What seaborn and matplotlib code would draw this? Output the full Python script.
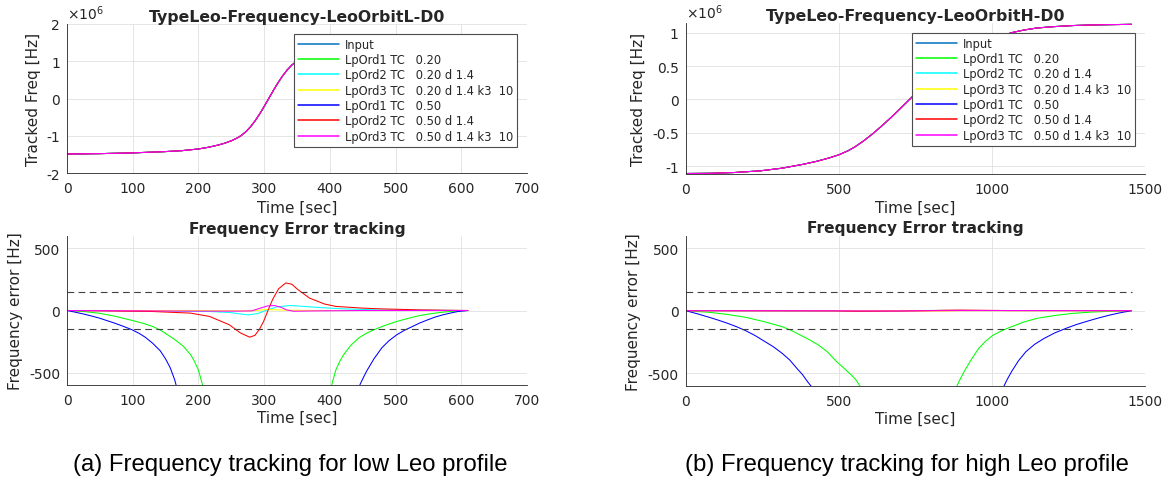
import matplotlib
matplotlib.use("Agg")
import matplotlib.pyplot as plt
import seaborn as sns

# ---- series names / colours (MATLAB style) ----
labels = ['Input', 'LpOrd1 TC   0.20', 'LpOrd2 TC   0.20 d 1.4', 'LpOrd3 TC   0.20 d 1.4 k3  10',
          'LpOrd1 TC   0.50', 'LpOrd2 TC   0.50 d 1.4', 'LpOrd3 TC   0.50 d 1.4 k3  10']
colors = ['#0072BD', '#00FF00', '#00FFFF', '#FFFF00', '#0000FF', '#FF0000', '#FF00FF']

# ---- input Doppler profile, low Leo (Hz) ----
t_lo_in = [0, 50, 100, 150, 175, 200, 215, 230, 240, 250, 258, 265, 272, 279, 286, 293, 300, 307,
           314, 321, 328, 335, 342, 349, 356, 364, 374, 384, 399, 414, 439, 464, 514, 564, 612]
f_lo_in = [-1.49e6, -1.48e6, -1.46e6, -1.425e6, -1.40e6, -1.355e6, -1.31e6, -1.25e6, -1.20e6, -1.135e6,
           -1.07e6, -0.995e6, -0.895e6, -0.765e6, -0.605e6, -0.42e6, -0.215e6, 0.0,
           0.215e6, 0.42e6, 0.605e6, 0.765e6, 0.895e6, 0.995e6, 1.07e6, 1.135e6, 1.20e6, 1.25e6,
           1.31e6, 1.355e6, 1.40e6, 1.425e6, 1.46e6, 1.48e6, 1.49e6]

# ---- input Doppler profile, high Leo (Hz) ----
t_hi_in = [0, 80, 160, 244, 315, 386, 430, 470, 500, 530, 553, 580, 612, 642, 672, 700, 731,
           760, 790, 820, 850, 880, 910, 945, 980, 1020, 1064, 1105, 1147, 1200, 1266, 1320, 1380, 1456]
f_hi_in = [-1.11e6, -1.107e6, -1.095e6, -1.07e6, -1.03e6, -0.97e6, -0.925e6, -0.875e6, -0.83e6, -0.77e6,
           -0.71e6, -0.625e6, -0.51e6, -0.39e6, -0.265e6, -0.14e6, 0.0,
           0.13e6, 0.26e6, 0.38e6, 0.49e6, 0.59e6, 0.68e6, 0.77e6, 0.85e6, 0.93e6, 1.0e6, 1.04e6,
           1.07e6, 1.09e6, 1.107e6, 1.115e6, 1.12e6, 1.125e6]

# ---- frequency errors, low Leo (Hz) ----
t_lo_g = [0, 25, 49, 72, 99, 115, 130, 142, 153, 165, 177, 188, 194, 200, 206, 210, 305,
          398, 403, 409, 415, 421, 432, 444, 455, 467, 485, 502, 520, 537, 555, 572, 590, 610]
e_lo_g = [0, -8, -22, -45, -80, -102, -128, -158, -195, -238, -288, -355, -410, -480, -595, -680, -2000,
          -700, -595, -480, -410, -355, -280, -221, -185, -155, -118, -88, -62, -40, -25, -13, -5, 0]
t_lo_c = [0, 150, 217, 247, 264, 276, 290, 305, 320, 340, 363, 390, 421, 480, 610]
e_lo_c = [0, -3, -8, -16, -28, -35, -25, 5, 30, 40, 32, 22, 13, 4, 0]
t_lo_y = [0, 200, 280, 305, 330, 380, 610]
e_lo_y = [0, 0, -3, 8, 3, 0, 0]
t_lo_b = [0, 12, 25, 37, 49, 60, 72, 85, 99, 110, 119, 130, 142, 150, 157, 164, 170, 305,
          441, 446, 451, 456, 467, 479, 490, 502, 514, 526, 537, 549, 560, 572, 584, 595, 610]
e_lo_b = [0, -13, -28, -44, -61, -80, -101, -126, -155, -185, -215, -262, -325, -390, -460, -560, -680, -3500,
          -700, -595, -540, -488, -390, -301, -243, -195, -158, -128, -100, -75, -53, -35, -20, -8, 0]
t_lo_r = [0, 130, 188, 217, 247, 264, 278, 286, 293, 299, 305, 313, 322, 333, 342, 351, 369, 392, 409, 450, 479, 537, 610]
e_lo_r = [0, -8, -21, -48, -115, -181, -215, -200, -150, -90, -10, 90, 175, 222, 212, 170, 100, 52, 33, 19, 13, 5, 0]
t_lo_m = [0, 120, 200, 260, 281, 295, 305, 316, 326, 334, 345, 380, 450, 610]
e_lo_m = [0, -3, -5, -5, -3, 20, 37, 40, 25, 5, -6, -3, 0, 0]

# ---- frequency errors, high Leo (Hz) ----
t_hi_g = [0, 77, 137, 196, 255, 315, 345, 374, 404, 434, 463, 493, 517, 541, 555, 567, 580, 730,
          875, 886, 897, 909, 933, 957, 980, 1004, 1034, 1064, 1105, 1147, 1206, 1266, 1325, 1385, 1456]
e_hi_g = [0, -13, -30, -53, -87, -128, -158, -195, -232, -275, -330, -408, -460, -515, -550, -595, -640, -1500,
          -650, -600, -545, -488, -390, -301, -243, -195, -158, -128, -90, -61, -38, -21, -11, -5, 0]
t_hi_c = [0, 600, 800, 1456]
e_hi_c = [0, -2, 2, 0]
t_hi_y = [0, 700, 780, 850, 900, 1456]
e_hi_y = [0, 0, -3, -3, 0, 0]
t_hi_b = [0, 40, 77, 107, 137, 166, 196, 226, 256, 286, 315, 340, 363, 381, 398, 410, 425, 730,
          1030, 1040, 1050, 1064, 1087, 1111, 1140, 1171, 1205, 1242, 1277, 1313, 1350, 1385, 1420, 1456]
e_hi_b = [0, -26, -53, -76, -101, -128, -160, -198, -243, -288, -341, -395, -461, -510, -568, -605, -650, -2000,
          -650, -600, -550, -488, -400, -328, -268, -221, -178, -141, -110, -83, -57, -35, -16, 0]
t_hi_r = [0, 480, 560, 640, 700, 780, 850, 900, 980, 1060, 1456]
e_hi_r = [0, -2, -5, -4, -3, 0, 4, 5, 3, 1, 0]
t_hi_m = [0, 500, 700, 900, 1100, 1456]
e_hi_m = [0, -1, -2, 1, 1, 0]

# error threshold lines
limit_t_lo = [0, 605]
limit_t_hi = [0, 1456]
limit_val = 150

# ticks
xticks_lo = [0, 100, 200, 300, 400, 500, 600, 700]
xticks_hi = [0, 500, 1000, 1500]
yticks_f_lo = [-2e6, -1e6, 0, 1e6, 2e6]
ylabels_f_lo = ['-2', '-1', '0', '1', '2']
yticks_f_hi = [-1e6, -0.5e6, 0, 0.5e6, 1e6]
ylabels_f_hi = ['-1', '-0.5', '0', '0.5', '1']
yticks_err = [-500, 0, 500]

sns.set_theme(style='white')
plt.rcParams['font.family'] = ['DejaVu Sans']
plt.rcParams['axes.unicode_minus'] = False
plt.rcParams['mathtext.fontset'] = 'dejavusans'

fig = plt.figure(figsize=(11.71, 4.81), dpi=100)
W, H = 1171, 481
ax_tl = fig.add_axes([67 / W, 1 - 174 / H, 460 / W, 149 / H])
ax_bl = fig.add_axes([67 / W, 1 - 386 / H, 460 / W, 149 / H])
ax_tr = fig.add_axes([685.7 / W, 1 - 174.5 / H, 459.3 / W, 150.5 / H])
ax_br = fig.add_axes([685.7 / W, 1 - 386.7 / H, 459.3 / W, 150 / H])

txt = '0.15'
lw = 0.75


def style(ax):
    for s in ['top', 'right']:
        ax.spines[s].set_visible(False)
    for s in ['left', 'bottom']:
        ax.spines[s].set_color(txt)
        ax.spines[s].set_linewidth(0.6)
    ax.tick_params(direction='in', length=2.5, width=0.6, colors=txt, labelsize=10)
    ax.tick_params(axis='x', pad=6)
    ax.tick_params(axis='y', pad=5)
    ax.grid(True, color='0.88', lw=0.6)
    ax.set_axisbelow(True)


# ---- top panels: tracked frequency ----
for ax, t, f in [(ax_tl, t_lo_in, f_lo_in), (ax_tr, t_hi_in, f_hi_in)]:
    for lab, col in zip(labels, colors):
        sns.lineplot(x=t, y=f, ax=ax, color=col, lw=lw, label=lab, sort=False, estimator=None)
    style(ax)
    ax.set_xlabel('Time [sec]', fontsize=11, color=txt)
    ax.set_ylabel('Tracked Freq [Hz]', fontsize=11, color=txt)
    ax.text(0.0, 1.012, r'$\times10^{6}$', transform=ax.transAxes, fontsize=10, color=txt,
            ha='left', va='bottom')
    leg = ax.legend(loc='upper right', fontsize=8.3, frameon=True, fancybox=False, framealpha=1,
                    edgecolor='0.3', borderpad=0.35, labelspacing=0.2, handlelength=3.6,
                    handletextpad=0.5, borderaxespad=0.85)
    leg.get_frame().set_linewidth(0.8)
    for hl in leg.get_lines():
        hl.set_linewidth(1.1)

ax_tl.set_title('TypeLeo-Frequency-LeoOrbitL-D0', fontsize=11.3, fontweight='bold', pad=2.5)
ax_tr.set_title('TypeLeo-Frequency-LeoOrbitH-D0', fontsize=11.3, fontweight='bold', pad=2.5)
ax_tl.set_xlim(0, 700)
ax_tl.set_xticks(xticks_lo)
ax_tl.set_ylim(-2e6, 2e6)
ax_tl.set_yticks(yticks_f_lo)
ax_tl.set_yticklabels(ylabels_f_lo)
ax_tr.set_xlim(0, 1500)
ax_tr.set_xticks(xticks_hi)
ax_tr.set_ylim(-1.11e6, 1.145e6)
ax_tr.set_yticks(yticks_f_hi)
ax_tr.set_yticklabels(ylabels_f_hi)

# ---- bottom panels: frequency error ----
err_lo = [(t_lo_g, e_lo_g), (t_lo_c, e_lo_c), (t_lo_y, e_lo_y), (t_lo_b, e_lo_b), (t_lo_r, e_lo_r), (t_lo_m, e_lo_m)]
err_hi = [(t_hi_g, e_hi_g), (t_hi_c, e_hi_c), (t_hi_y, e_hi_y), (t_hi_b, e_hi_b), (t_hi_r, e_hi_r), (t_hi_m, e_hi_m)]
for ax, series, lim_t in [(ax_bl, err_lo, limit_t_lo), (ax_br, err_hi, limit_t_hi)]:
    for (t, e), col in zip(series, colors[1:]):
        sns.lineplot(x=t, y=e, ax=ax, color=col, lw=lw, sort=False, estimator=None)
    for v in [limit_val, -limit_val]:
        ax.plot(lim_t, [v, v], color='0.25', lw=0.8, dashes=(6, 4))
    style(ax)
    ax.set_ylim(-600, 600)
    ax.set_yticks(yticks_err)
    ax.set_title('Frequency Error tracking', fontsize=11.1, fontweight='bold', pad=2.5)
    ax.set_xlabel('Time [sec]', fontsize=11, color=txt)
    ax.set_ylabel('Frequency error [Hz]', fontsize=11, color=txt)

ax_bl.set_xlim(0, 700)
ax_bl.set_xticks(xticks_lo)
ax_br.set_xlim(0, 1500)
ax_br.set_xticks(xticks_hi)

# label placement
ax_tl.xaxis.set_label_coords(0.5, -0.178)
ax_tr.xaxis.set_label_coords(0.5, -0.178)
ax_bl.xaxis.set_label_coords(0.5, -0.165)
ax_br.xaxis.set_label_coords(0.5, -0.165)
ax_tl.yaxis.set_label_coords(-0.057, 0.5)
ax_bl.yaxis.set_label_coords(-0.096, 0.5)
ax_tr.yaxis.set_label_coords(-0.087, 0.5)
ax_br.yaxis.set_label_coords(-0.097, 0.5)

# sub-figure captions
fig.text(290 / W, 1 - 465 / H, '(a) Frequency tracking for low Leo profile', ha='center', va='center',
         fontsize=17.2, family='Liberation Sans', color='black')
fig.text(907 / W, 1 - 465 / H, '(b) Frequency tracking for high Leo profile', ha='center', va='center',
         fontsize=17.2, family='Liberation Sans', color='black')

fig.savefig('out.png', dpi=100)
